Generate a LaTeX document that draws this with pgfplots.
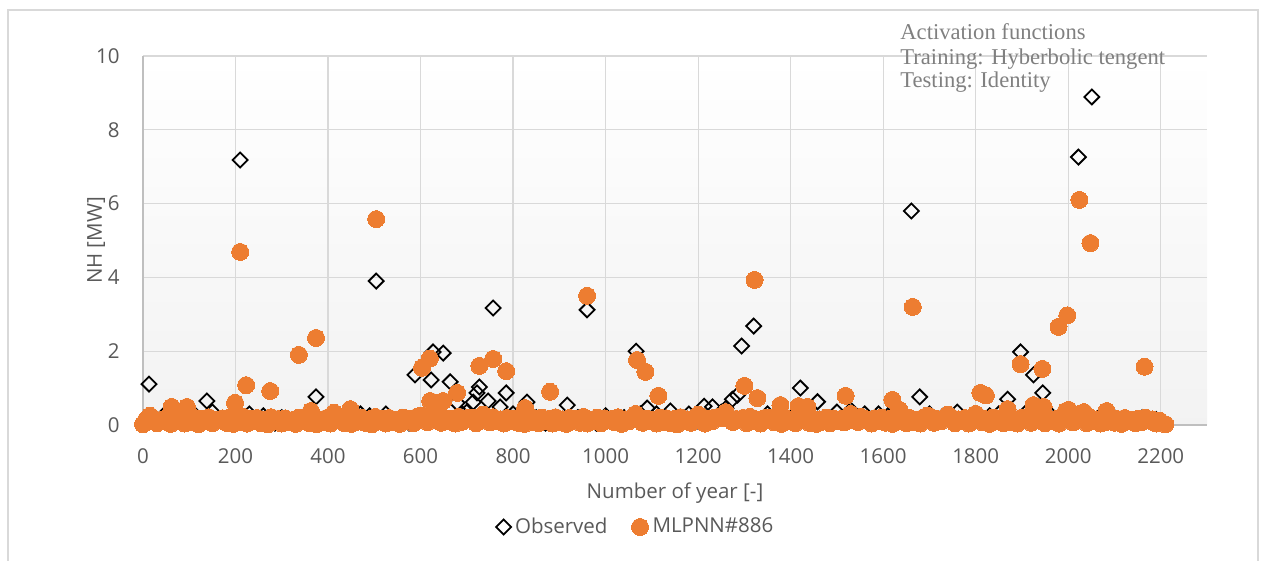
\documentclass[border=0pt]{standalone}
\usepackage{pgfplots}
\pgfplotsset{compat=1.18}
\usepackage{fontspec}
\setmainfont{Open Sans}
\newfontfamily\annfont{Liberation Serif}
\definecolor{mlorange}{HTML}{ED7D31}
\definecolor{txtgray}{HTML}{595959}
\definecolor{gridgray}{HTML}{D9D9D9}
\definecolor{axgray}{HTML}{BFBFBF}
\definecolor{anngray}{HTML}{808080}
\definecolor{framegray}{HTML}{D9D9D9}

\pgfplotstableread{
x y
0 0.05
13 1.11
30 0.15
48 0.30
65 0.10
80 0.25
110 0.30
125 0.05
138 0.65
150 0.35
170 0.10
185 0.20
210 7.18
230 0.30
245 0.10
260 0.25
285 0.05
300 0.20
320 0.08
340 0.15
360 0.05
374 0.76
395 0.10
420 0.20
445 0.05
470 0.30
490 0.25
504 3.90
525 0.30
545 0.10
560 0.20
575 0.05
588 1.36
600 0.25
623 1.22
627 1.98
649 1.95
664 1.17
679 0.60
690 0.30
700 0.35
714 0.62
722 0.87
727 1.03
740 0.30
746 0.65
757 3.17
772 0.49
785 0.87
800 0.30
830 0.62
850 0.20
870 0.05
890 0.15
917 0.54
940 0.20
960 3.12
980 0.05
1000 0.25
1020 0.10
1040 0.20
1066 2.00
1075 0.30
1090 0.46
1110 0.30
1140 0.38
1160 0.20
1180 0.30
1200 0.10
1213 0.51
1231 0.49
1250 0.35
1260 0.45
1274 0.70
1285 0.81
1294 2.14
1310 0.10
1320 2.68
1350 0.30
1380 0.35
1400 0.20
1421 1.00
1440 0.30
1458 0.63
1480 0.10
1500 0.35
1530 0.40
1560 0.30
1590 0.30
1610 0.25
1640 0.35
1661 5.80
1679 0.76
1700 0.30
1730 0.25
1760 0.35
1790 0.20
1830 0.25
1850 0.30
1869 0.70
1897 1.98
1910 0.35
1925 1.36
1945 0.87
1960 0.30
1990 0.20
2022 7.26
2051 8.89
2070 0.25
2100 0.20
2130 0.15
2160 0.20
2190 0.15
2205 0.05
}\observed

\pgfplotstableread{
x y
0 0.02
15 0.25
30 0.05
45 0.10
60 0.03
75 0.12
90 0.04
105 0.08
120 0.02
135 0.10
150 0.05
165 0.15
180 0.06
195 0.03
210 0.09
225 0.04
240 0.12
255 0.05
270 0.02
285 0.10
300 0.04
315 0.07
330 0.03
345 0.11
360 0.05
375 0.02
390 0.08
405 0.04
420 0.13
435 0.05
450 0.03
465 0.09
480 0.06
495 0.02
510 0.10
525 0.04
540 0.07
555 0.03
570 0.12
585 0.05
600 0.25
615 0.08
630 0.30
645 0.06
660 0.10
675 0.04
690 0.09
705 0.20
720 0.05
735 0.28
750 0.07
765 0.12
780 0.04
795 0.10
810 0.06
825 0.03
840 0.09
855 0.05
870 0.11
885 0.04
900 0.08
915 0.03
930 0.12
945 0.06
960 0.04
975 0.10
990 0.05
1005 0.13
1020 0.07
1035 0.03
1050 0.10
1065 0.30
1080 0.06
1095 0.12
1110 0.04
1125 0.09
1140 0.05
1155 0.02
1170 0.11
1185 0.06
1200 0.28
1215 0.04
1230 0.10
1245 0.22
1260 0.35
1275 0.08
1290 0.15
1305 0.05
1320 0.12
1335 0.04
1350 0.20
1365 0.07
1380 0.03
1395 0.10
1410 0.05
1425 0.13
1440 0.06
1455 0.03
1470 0.09
1485 0.05
1500 0.11
1515 0.07
1530 0.30
1545 0.08
1560 0.15
1575 0.04
1590 0.10
1605 0.06
1620 0.03
1635 0.12
1650 0.05
1665 0.08
1680 0.04
1695 0.25
1710 0.06
1725 0.10
1740 0.28
1755 0.05
1770 0.12
1785 0.04
1800 0.30
1815 0.07
1830 0.03
1845 0.11
1860 0.05
1875 0.09
1890 0.04
1905 0.13
1920 0.06
1935 0.40
1950 0.05
1965 0.10
1980 0.04
1995 0.38
2010 0.07
2025 0.30
2040 0.05
2055 0.12
2070 0.04
2085 0.09
2100 0.06
2115 0.03
2130 0.11
2145 0.05
2160 0.08
2175 0.12
2190 0.04
2210 0.02
7 0.15
22 0.18
37 0.13
52 0.20
67 0.16
82 0.22
97 0.14
112 0.19
127 0.17
142 0.21
157 0.13
172 0.18
187 0.20
202 0.15
217 0.22
232 0.17
247 0.19
262 0.14
277 0.21
292 0.16
307 0.18
322 0.13
337 0.20
352 0.17
367 0.22
382 0.15
397 0.19
412 0.16
427 0.21
442 0.14
457 0.18
472 0.20
487 0.15
502 0.22
517 0.17
532 0.19
547 0.13
562 0.20
577 0.16
592 0.22
607 0.18
622 0.21
637 0.15
652 0.19
667 0.17
682 0.22
697 0.14
712 0.20
727 0.18
742 0.16
757 0.21
772 0.15
787 0.19
802 0.17
817 0.22
832 0.14
847 0.18
862 0.20
877 0.16
892 0.21
907 0.15
922 0.19
937 0.17
952 0.22
967 0.13
982 0.20
997 0.18
1012 0.16
1027 0.21
1042 0.15
1057 0.19
1072 0.22
1087 0.17
1102 0.14
1117 0.20
1132 0.18
1147 0.16
1162 0.21
1177 0.15
1192 0.19
1207 0.22
1222 0.17
1237 0.20
1252 0.18
1267 0.21
1282 0.16
1297 0.19
1312 0.22
1327 0.15
1342 0.18
1357 0.20
1372 0.16
1387 0.21
1402 0.14
1417 0.19
1432 0.22
1447 0.17
1462 0.15
1477 0.20
1492 0.18
1507 0.16
1522 0.21
1537 0.19
1552 0.22
1567 0.15
1582 0.18
1597 0.20
1612 0.16
1627 0.21
1642 0.17
1657 0.19
1672 0.14
1687 0.20
1702 0.22
1717 0.16
1732 0.18
1747 0.21
1762 0.15
1777 0.19
1792 0.17
1807 0.22
1822 0.16
1837 0.20
1852 0.18
1867 0.21
1882 0.15
1897 0.19
1912 0.22
1927 0.17
1942 0.20
1957 0.18
1972 0.16
1987 0.21
2002 0.19
2017 0.22
2032 0.17
2047 0.20
2062 0.15
2077 0.18
2092 0.21
2107 0.16
2122 0.19
2137 0.14
2152 0.17
2167 0.20
2182 0.15
2197 0.12
62 0.49
95 0.49
199 0.60
210 4.69
223 1.08
275 0.92
337 1.90
363 0.38
374 2.36
413 0.33
448 0.43
504 5.58
603 1.55
620 1.80
621 0.65
649 0.65
679 0.87
727 1.60
757 1.79
785 1.46
826 0.46
880 0.90
960 3.50
1068 1.76
1086 1.44
1114 0.79
1300 1.06
1322 3.93
1328 0.73
1378 0.54
1417 0.51
1436 0.49
1519 0.79
1620 0.68
1635 0.41
1664 3.20
1810 0.87
1822 0.80
1869 0.43
1897 1.65
1925 0.54
1944 1.52
1947 0.49
1979 2.66
1998 2.97
2001 0.41
2024 6.10
2034 0.35
2048 4.93
2083 0.38
2165 1.58
}\mlpnn

\begin{document}
\begin{tikzpicture}
\useasboundingbox (0,0) rectangle (632pt,280.5pt);
\draw[framegray, line width=0.6pt] (4pt,-5pt) -- (4pt,275.5pt) -- (629pt,275.5pt) -- (629pt,-5pt);
\begin{axis}[
  at={(71.5pt,68pt)}, anchor=south west,
  scale only axis, width=532pt, height=184.5pt,
  xmin=0, xmax=2300, ymin=0, ymax=10,
  xtick={0,200,...,2200}, ytick={0,2,...,10},
  clip=false,
  axis x line=bottom, axis y line=left,
  axis line style={-, draw=axgray, line width=0.6pt},
  major tick length=0pt,
  grid=major,
  major grid style={draw=gridgray, line width=0.6pt},
  axis background/.style={shade, top color=white, bottom color=black!5},
  /pgf/number format/assume math mode=true,
  /pgf/number format/1000 sep={},
  tick label style={font=\fontsize{10.25}{12}\selectfont, text=txtgray, inner sep=0pt},
  yticklabel style={anchor=east, xshift=-11.5pt},
  xticklabel style={anchor=north, yshift=-11.5pt},
  xlabel={Number of year [-]},
  ylabel={NH [MW]},
  label style={font=\fontsize{10.25}{12}\selectfont, text=txtgray},
  xlabel style={at={(axis description cs:0.5,-0.184)}, anchor=center},
  ylabel style={at={(axis description cs:-0.044,0.5)}, anchor=center},
  legend style={at={(axis description cs:0.464,-0.2764)}, anchor=center, draw=none, fill=none,
    font=\fontsize{10.25}{12}\selectfont, text=txtgray,
    /tikz/every even column/.append style={column sep=10pt}},
  legend columns=2,
  legend image code/.code={\draw[#1] plot coordinates {(0pt,0pt)};},
]
\addplot[only marks, mark=square, mark size=2.65pt,
  mark options={rotate=45, draw=black, fill=none, line width=0.9pt}]
  table[x=x, y=y] {\observed};
\addlegendentry{Observed}
\addplot[only marks, mark=*, mark size=4.25pt,
  mark options={draw=mlorange, fill=mlorange, line width=0pt}]
  table[x=x, y=y] {\mlpnn};
\addlegendentry{MLPNN\#886}
\end{axis}
\begin{scope}[every node/.style={anchor=base west, inner sep=0pt, text=anngray, font=\annfont\fontsize{11.3}{13}\selectfont}]
\node at (450pt,260.5pt) {Activation functions};
\node at (450pt,248pt) {Training: Hyberbolic tengent};
\node at (450pt,236.5pt) {Testing: Identity};
\end{scope}
\end{tikzpicture}
\end{document}
